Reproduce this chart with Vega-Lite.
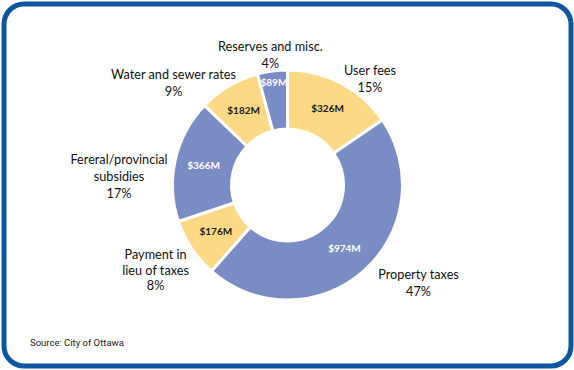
{
  "$schema": "https://vega.github.io/schema/vega-lite/v6.json",
  "width": 574,
  "height": 370,
  "autosize": {"type": "fit", "contains": "padding"},
  "padding": {"left": 4, "top": 4, "right": 3, "bottom": 4},
  "background": "white",
  "view": {"stroke": "#0A56A0", "strokeWidth": 5, "cornerRadius": 20},
  "title": {"text": "Source: City of Ottawa", "orient": "bottom", "anchor": "start", "offset": -28, "dx": 26, "fontSize": 9.5, "fontWeight": "normal", "font": "Roboto", "color": "#222222"},
  "data": {"values": [
    {"idx": 1, "cat": "User fees", "value": 326, "vlabel": "$326M", "label": "User fees\n15%"},
    {"idx": 2, "cat": "Property taxes", "value": 974, "vlabel": "$974M", "label": "Property taxes\n47%"},
    {"idx": 3, "cat": "Payment in lieu of taxes", "value": 176, "vlabel": "$176M", "label": "Payment in\nlieu of taxes\n8%"},
    {"idx": 4, "cat": "Fereral/provincial subsidies", "value": 366, "vlabel": "$366M", "label": "Fereral/provincial\nsubsidies\n17%"},
    {"idx": 5, "cat": "Water and sewer rates", "value": 182, "vlabel": "$182M", "label": "Water and sewer rates\n9%"},
    {"idx": 6, "cat": "Reserves and misc.", "value": 89, "vlabel": "$89M", "label": "Reserves and misc.\n4%"}
  ]},
  "encoding": {
    "theta": {"field": "value", "type": "quantitative", "stack": true},
    "order": {"field": "idx", "type": "quantitative"}
  },
  "layer": [
    {
      "mark": {"type": "arc", "outerRadius": 115, "innerRadius": 56, "stroke": "white", "strokeWidth": 3},
      "encoding": {
        "color": {"field": "cat", "type": "nominal", "legend": null,
          "scale": {"domain": ["User fees", "Property taxes", "Payment in lieu of taxes", "Fereral/provincial subsidies", "Water and sewer rates", "Reserves and misc."],
                    "range": ["#FDD985", "#7A8CC4", "#FDD985", "#7A8CC4", "#FDD985", "#7A8CC4"]}}
      }
    },
    {
      "mark": {"type": "text", "radius": 86, "font": "Lato", "fontSize": 10, "fontWeight": "bold", "align": "center", "baseline": "middle"},
      "encoding": {
        "text": {"condition": {"test": "datum.cat !== 'Reserves and misc.'", "field": "vlabel"}, "value": ""},
        "color": {"condition": {"test": "datum.idx % 2 === 0", "value": "white"}, "value": "#1a1a1a"}
      }
    },
    {
      "mark": {"type": "text", "radius": 103, "font": "Lato", "fontSize": 10, "fontWeight": "bold", "align": "center", "baseline": "middle", "color": "white"},
      "encoding": {
        "text": {"condition": {"test": "datum.cat === 'Reserves and misc.'", "field": "vlabel"}, "value": ""}
      }
    },
    {
      "mark": {"type": "text", "radius": 145, "dx": 15, "dy": 14, "font": "Lato", "fontSize": 12.7, "lineHeight": 17, "lineBreak": "\n", "align": "center", "baseline": "middle", "color": "#111111"},
      "encoding": {"text": {"condition": {"test": "datum.cat === 'User fees'", "field": "label"}, "value": ""}}
    },
    {
      "mark": {"type": "text", "radius": 145, "dx": 35, "dy": -19, "font": "Lato", "fontSize": 12.7, "lineHeight": 17, "lineBreak": "\n", "align": "center", "baseline": "middle", "color": "#111111"},
      "encoding": {"text": {"condition": {"test": "datum.cat === 'Property taxes'", "field": "label"}, "value": ""}}
    },
    {
      "mark": {"type": "text", "radius": 145, "dx": -11, "dy": -10, "font": "Lato", "fontSize": 12.7, "lineHeight": 15.5, "lineBreak": "\n", "align": "center", "baseline": "middle", "color": "#111111"},
      "encoding": {"text": {"condition": {"test": "datum.cat === 'Payment in lieu of taxes'", "field": "label"}, "value": ""}}
    },
    {
      "mark": {"type": "text", "radius": 145, "dx": -27, "dy": 7, "font": "Lato", "fontSize": 12.7, "lineHeight": 17, "lineBreak": "\n", "align": "center", "baseline": "middle", "color": "#111111"},
      "encoding": {"text": {"condition": {"test": "datum.cat === 'Fereral/provincial subsidies'", "field": "label"}, "value": ""}}
    },
    {
      "mark": {"type": "text", "radius": 145, "dx": -40, "dy": 15, "font": "Lato", "fontSize": 12.7, "lineHeight": 17, "lineBreak": "\n", "align": "center", "baseline": "middle", "color": "#111111"},
      "encoding": {"text": {"condition": {"test": "datum.cat === 'Water and sewer rates'", "field": "label"}, "value": ""}}
    },
    {
      "mark": {"type": "text", "radius": 145, "dx": 2, "dy": 6, "font": "Lato", "fontSize": 12.7, "lineHeight": 17, "lineBreak": "\n", "align": "center", "baseline": "middle", "color": "#111111"},
      "encoding": {"text": {"condition": {"test": "datum.cat === 'Reserves and misc.'", "field": "label"}, "value": ""}}
    }
  ]
}
